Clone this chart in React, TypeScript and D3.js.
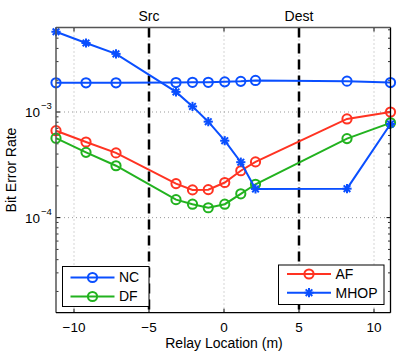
import React from "react";
import * as d3 from "d3";

const relayX = [-11.2, -9.2, -7.2, -3.2, -2.1, -1.05, 0.05, 1.12, 2.1, 8.2, 11.1];
const ncBER = [1.89e-3, 1.89e-3, 1.89e-3, 1.9e-3, 1.91e-3, 1.91e-3, 1.93e-3, 1.95e-3, 1.99e-3, 1.96e-3, 1.9e-3];
const afBER = [6.65e-4, 5.2e-4, 4.1e-4, 2.1e-4, 1.83e-4, 1.84e-4, 2.15e-4, 2.78e-4, 3.37e-4, 8.6e-4, 1.0e-3];
const dfBER = [5.65e-4, 4.15e-4, 3.1e-4, 1.48e-4, 1.34e-4, 1.24e-4, 1.34e-4, 1.68e-4, 2.07e-4, 5.6e-4, 7.9e-4];
const mhopBER = [5.75e-3, 4.5e-3, 3.55e-3, 1.55e-3, 1.13e-3, 8.1e-4, 5.35e-4, 3.35e-4, 1.87e-4, 1.88e-4, 7.7e-4];
const xTicks = [-10, -5, 0, 5, 10];
const yMajor = [1e-3, 1e-4];
const yMinor = [2e-5, 3e-5, 4e-5, 5e-5, 6e-5, 7e-5, 8e-5, 9e-5, 2e-4, 3e-4, 4e-4, 5e-4, 6e-4, 7e-4, 8e-4, 9e-4, 2e-3, 3e-3, 4e-3, 5e-3, 6e-3];
const markerLines = [
  { name: "Src", x: -5 },
  { name: "Dest", x: 5 },
];

const BLUE = "#0a4fff";
const RED = "#ff3322";
const GREEN = "#22b21f";
const FONT = "'Liberation Sans', Arial, Helvetica, sans-serif";

const L = 56, R = 390.5, T = 27.5, B = 312.7;

export default function App() {
  const x = d3.scaleLinear().domain([-11.2, 11.1]).range([L, R]);
  const y = d3.scaleLog().domain([Math.pow(10, -4.9), Math.pow(10, -2.2)]).range([B, T]);
  const line = d3
    .line<[number, number]>()
    .x((d) => x(d[0]))
    .y((d) => y(d[1]));

  const series = [
    { name: "NC", vals: ncBER, color: BLUE, marker: "o" },
    { name: "AF", vals: afBER, color: RED, marker: "o" },
    { name: "DF", vals: dfBER, color: GREEN, marker: "o" },
    { name: "MHOP", vals: mhopBER, color: BLUE, marker: "*" },
  ];

  const marker = (cx: number, cy: number, type: string, color: string, key: string) => {
    if (type === "o") {
      return <circle key={key} cx={cx} cy={cy} r={4.6} fill="none" stroke={color} strokeWidth={2} />;
    }
    const r = 4.6;
    const d = r * 0.72;
    return (
      <g key={key} stroke={color} strokeWidth={2}>
        <line x1={cx - r} y1={cy} x2={cx + r} y2={cy} />
        <line x1={cx} y1={cy - r} x2={cx} y2={cy + r} />
        <line x1={cx - d} y1={cy - d} x2={cx + d} y2={cy + d} />
        <line x1={cx - d} y1={cy + d} x2={cx + d} y2={cy - d} />
      </g>
    );
  };

  const legendEntry = (s: any, lx: number, ly: number) => (
    <g key={s.name}>
      <line x1={lx} x2={lx + 44} y1={ly} y2={ly} stroke={s.color} strokeWidth={2} />
      {marker(lx + 22, ly, s.marker, s.color, "m")}
      <text x={lx + 48.5} y={ly} dy="0.35em" fontSize={14} fontFamily={FONT} fill="#000">
        {s.name}
      </text>
    </g>
  );

  return (
    <svg width={402} height={351} style={{ position: "absolute", left: 0, top: 0, background: "#fff" }}>
      <rect x={0} y={0} width={402} height={351} fill="#fff" />
      {/* grid */}
      {xTicks.map((t) => (
        <line key={"gx" + t} x1={x(t)} x2={x(t)} y1={T} y2={B} stroke="#aaa" strokeWidth={1} strokeDasharray="1,3" />
      ))}
      {yMajor.map((t) => (
        <line key={"gy" + t} x1={L} x2={R} y1={y(t)} y2={y(t)} stroke="#999" strokeWidth={1} strokeDasharray="1,3" />
      ))}
      {/* ticks */}
      {xTicks.map((t) => (
        <g key={"tx" + t} stroke="#000" strokeWidth={1}>
          <line x1={x(t)} x2={x(t)} y1={B} y2={B - 4} />
          <line x1={x(t)} x2={x(t)} y1={T} y2={T + 4} />
        </g>
      ))}
      {yMajor.map((t) => (
        <g key={"ty" + t} stroke="#000" strokeWidth={1}>
          <line x1={L} x2={L + 4} y1={y(t)} y2={y(t)} />
          <line x1={R} x2={R - 4} y1={y(t)} y2={y(t)} />
        </g>
      ))}
      {yMinor.map((t) => (
        <g key={"tm" + t} stroke="#333" strokeWidth={1}>
          <line x1={L} x2={L + 2.5} y1={y(t)} y2={y(t)} />
          <line x1={R} x2={R - 2.5} y1={y(t)} y2={y(t)} />
        </g>
      ))}
      {/* dashed vertical src/dest lines */}
      {markerLines.map((m) => (
        <g key={m.name}>
          <line x1={x(m.x)} x2={x(m.x)} y1={T} y2={B} stroke="#000" strokeWidth={2.5} strokeDasharray="10,6" />
          <text x={x(m.x)} y={16} dy="0.35em" textAnchor="middle" fontSize={14} fontFamily={FONT}>
            {m.name}
          </text>
        </g>
      ))}
      {/* series */}
      {series.map((s) => (
        <g key={s.name}>
          <path
            d={line(relayX.map((v, i) => [v, s.vals[i]] as [number, number])) || ""}
            fill="none"
            stroke={s.color}
            strokeWidth={2}
          />
          {relayX.map((v, i) => marker(x(v), y(s.vals[i]), s.marker, s.color, s.name + i))}
        </g>
      ))}
      {/* axes box */}
      <line x1={L} x2={L} y1={T} y2={B} stroke="#555" strokeWidth={1.5} />
      <line x1={L} x2={R} y1={T} y2={T} stroke="#555" strokeWidth={1.5} />
      <line x1={R} x2={R} y1={T} y2={B} stroke="#000" strokeWidth={1.3} />
      <line x1={L} x2={R} y1={B} y2={B} stroke="#000" strokeWidth={1.3} />
      {/* x tick labels */}
      {xTicks.map((t) => (
        <text key={"lx" + t} x={x(t)} y={327} dy="0.35em" textAnchor="middle" fontSize={13.5} fontFamily={FONT}>
          {t < 0 ? "\u2212" + Math.abs(t) : String(t)}
        </text>
      ))}
      {/* y tick labels */}
      {yMajor.map((t) => (
        <text key={"ly" + t} x={40} y={y(t) + 5} textAnchor="end" fontSize={13.5} fontFamily={FONT}>
          10
        </text>
      ))}
      {yMajor.map((t) => (
        <text key={"lys" + t} x={41} y={y(t) - 3} fontSize={9.5} fontFamily={FONT}>
          {"\u2212" + Math.round(-Math.log10(t))}
        </text>
      ))}
      {/* axis labels */}
      <text x={224} y={343} dy="0.35em" textAnchor="middle" fontSize={14} fontFamily={FONT}>
        Relay Location (m)
      </text>
      <text
        transform={`translate(11,170) rotate(-90)`}
        textAnchor="middle"
        dy="0.35em"
        fontSize={14}
        fontFamily={FONT}
      >
        Bit Error Rate
      </text>
      {/* legends */}
      <rect x={62.5} y={266.5} width={86.5} height={40} fill="#fff" stroke="#000" strokeWidth={1} />
      {legendEntry(series[0], 70.5, 277.5)}
      {legendEntry(series[2], 70.5, 296.5)}
      <rect x={278.5} y={265} width={105.5} height={39.5} fill="#fff" stroke="#000" strokeWidth={1} />
      {legendEntry(series[1], 287, 274)}
      {legendEntry(series[3], 287, 292.7)}
    </svg>
  );
}
